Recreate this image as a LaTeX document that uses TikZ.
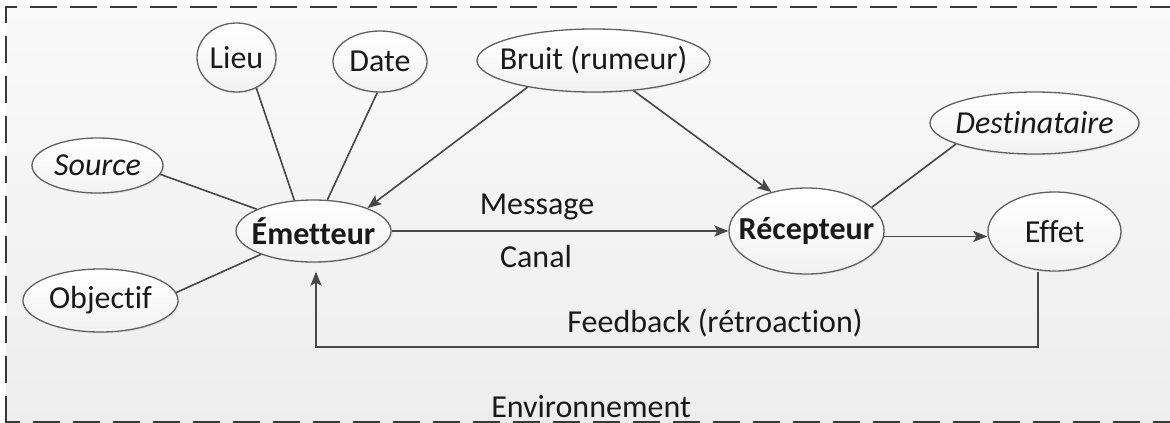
\documentclass[tikz,border=0pt]{standalone}
\usepackage{fontspec}
\setmainfont{Carlito}[Ligatures=NoCommon]
\usetikzlibrary{arrows.meta,shapes.geometric,shadows}
\begin{document}
\begin{tikzpicture}[x=1pt,y=-1pt,
  bub/.style={ellipse, draw=black!62, line width=1.3pt, inner sep=0pt,
    top color=white, bottom color=black!5,
    drop shadow={opacity=0.12, shadow xshift=1.5pt, shadow yshift=-1.5pt},
    text=black!90, font=\fontsize{32}{38}\selectfont},
  lbl/.style={text=black!90, font=\fontsize{32}{38}\selectfont, anchor=base, inner sep=0pt},
  ln/.style={draw=black!72, line width=1.6pt},
  arr/.style={ln, -{Stealth[length=14pt,width=11pt,inset=3pt]}},
  frame/.style={draw=black!78, line width=1.5pt, dash pattern=on 27pt off 13pt},
]
\useasboundingbox (0,0) rectangle (1170,423);
\fill[white] (0,0) rectangle (1170,423);
\shade[top color=black!2, bottom color=black!7] (6,7) rectangle (1170,423);
\draw[frame] (6,423) -- (6,7) -- (1170,7);
\draw[frame, dash phase=13pt] (6,422) -- (1170,422);

% nodes
\node[bub, minimum width=79pt, minimum height=69pt] (lieu) at (236.5,57.5) {\makebox[0pt]{Lieu}};
\node[bub, minimum width=94pt, minimum height=61pt] (date) at (380,61.5) {\makebox[0pt]{Date}};
\node[bub, minimum width=233pt, minimum height=63pt] (bruit) at (593.5,60.5) {\makebox[0pt]{Bruit (rumeur)}};
\node[bub, minimum width=131pt, minimum height=55pt] (source) at (97.5,165.5) {\makebox[0pt]{\itshape Source}};
\node[bub, minimum width=155pt, minimum height=62pt] (emet) at (313.5,231) {\makebox[0pt]{\bfseries Émetteur}};
\node[bub, minimum width=155pt, minimum height=63pt] (objectif) at (100.5,300.5) {\makebox[0pt]{Objectif}};
\node[bub, minimum width=155pt, minimum height=86pt] (rec) at (806.5,231) {\makebox[0pt]{\bfseries Récepteur}};
\node[bub, minimum width=209pt, minimum height=62pt] (dest) at (1034.5,123) {\makebox[0pt]{\itshape Destinataire}};
\node[bub, minimum width=133pt, minimum height=79pt] (effet) at (1054.5,231.5) {\makebox[0pt]{Effet}};

% labels
\node[lbl] (msg) at (537,214) {Message};
\node[lbl] (canal) at (536,267) {Canal};
\node[lbl] (fb) at (715,332) {Feedback (rétroaction)};
\node[lbl] (env) at (591,417) {Environnement};

% connectors
\draw[ln] (lieu.-57) -- (emet.122);
\draw[ln] (date.-95) -- (emet.66);
\draw[ln] (source.-8) -- (emet.159);
\draw[ln] (objectif.6) -- (emet.-156);
\draw[ln] (dest.-165) -- (rec.20);
\draw[arr] (bruit.-158) -- (emet.23);
\draw[arr] (bruit.-37) -- (rec.132);
\draw[arr] (emet.east) -- (rec.west);
\draw[arr] (rec.-4) -- (rec.-4 -| effet.west);

\coordinate (fbR) at (1038,347);
\coordinate (fbL) at (316,347);
\draw[arr, shorten >=9pt] (fbR |- effet.south) -- (fbR) -- (fbL) -- (fbL |- emet.south);
\end{tikzpicture}
\end{document}
